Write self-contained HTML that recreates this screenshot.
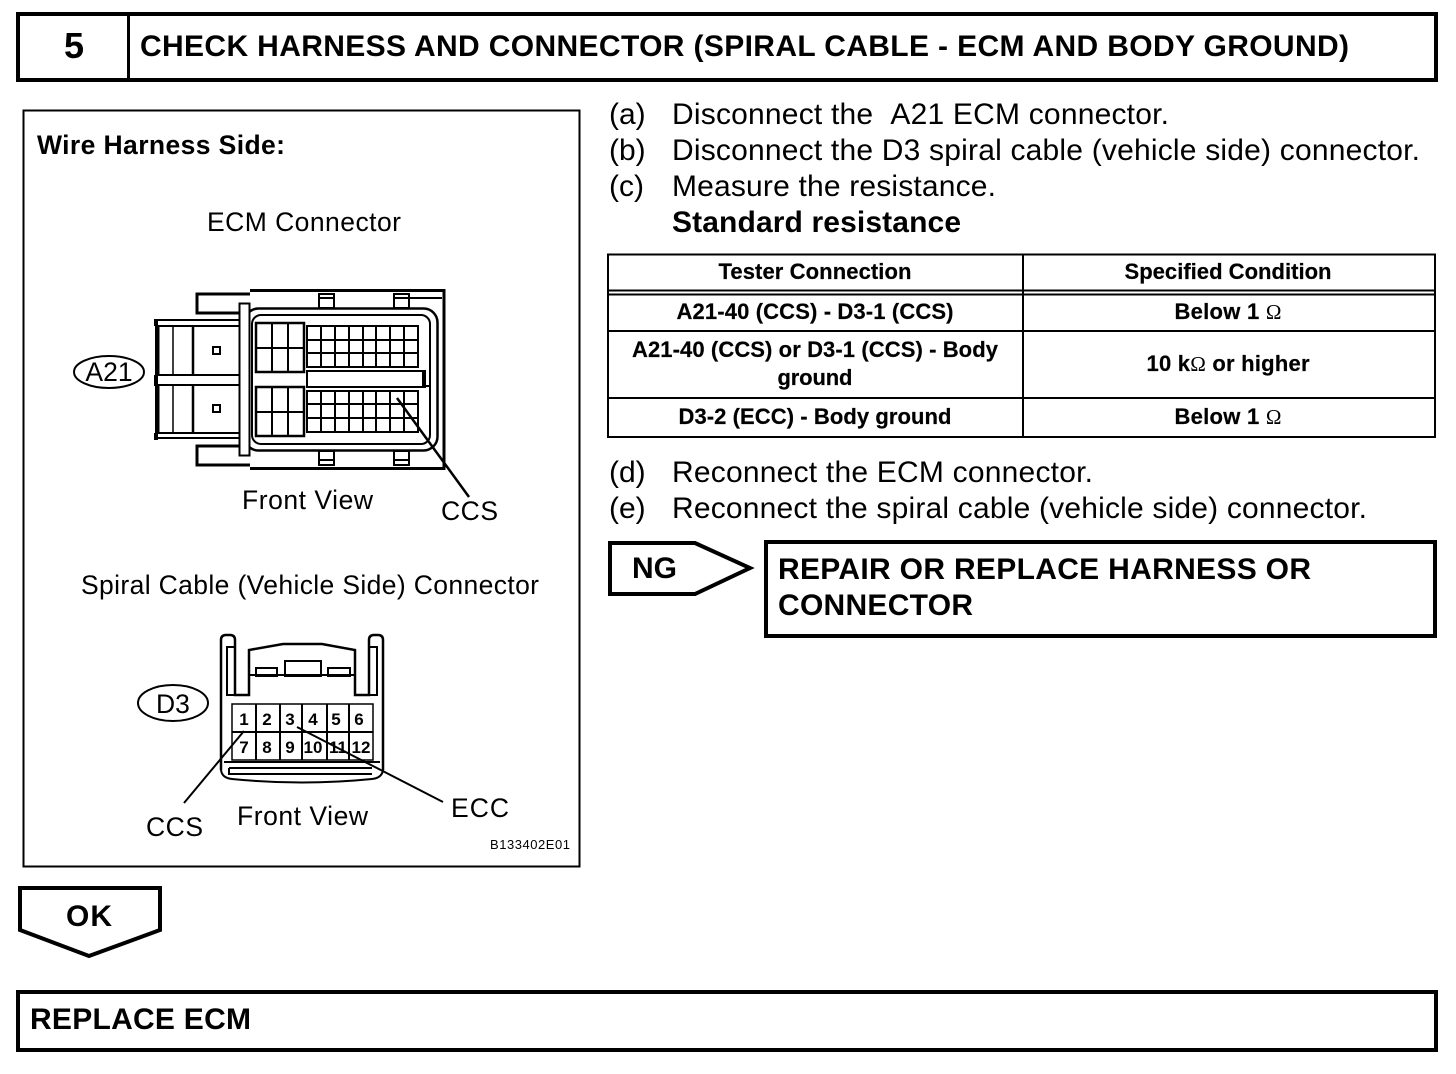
<!DOCTYPE html>
<html><head><meta charset="utf-8"><style>
html,body{margin:0;padding:0;background:#fff}
svg{display:block}
text{font-family:"Liberation Sans",sans-serif;fill:#000}
.b{font-weight:bold}
.t{font-size:30px}
.s{font-size:22px;font-weight:bold;stroke:#000;stroke-width:.2}
.o{font-weight:normal;stroke:none;font-family:"Liberation Serif",serif;font-size:21px}
.n{font-size:17px;font-weight:bold}
.d{font-size:26.500px}
</style></head><body>
<svg width="1456" height="1074" viewBox="0 0 1456 1074" xmlns="http://www.w3.org/2000/svg">
<g fill="none" stroke="#000">
<rect x="18" y="14" width="1418" height="66" stroke-width="4"/>
<path d="M128.500 14V80" stroke-width="3"/>
<rect x="23.500" y="110.500" width="556" height="756" stroke-width="2"/>
<!-- table -->
<rect x="608" y="254.500" width="827" height="182.500" stroke-width="2"/>
<path d="M1023 254V437M608 290.500H1435M608 294.500H1435M608 331H1435M608 398H1435" stroke-width="2"/>
<!-- NG -->
<path d="M610 543H695L750 568L695 594H610Z" stroke-width="4"/>
<rect x="766" y="542" width="669" height="94" stroke-width="4"/>
<!-- OK -->
<path d="M20 888H160V930L89 956L20 930Z" stroke-width="4"/>
<rect x="18" y="992" width="1418" height="58" stroke-width="4"/>

<!-- ECM connector -->
<g stroke-width="2">
<path d="M250 290.500H444V468.500H250" stroke-width="3"/>
<path d="M250 294H197V313H240" stroke-width="3"/>
<path d="M250 465H197V446H240" stroke-width="3"/>
<path d="M240 320H156V438H240" stroke-width="2"/>
<path d="M156 319V326M156 433V440M156 375V386" stroke-width="4"/>
<path d="M157 326H240M157 433H240M157 375H240M157 385H240"/>
<path d="M158 326V375M158 386V433" stroke-width="3"/>
<path d="M173 326V375M173 386V433" stroke-width="1.500"/>
<path d="M193 326V375M193 386V433" stroke-width="2.500"/>
<rect x="213" y="347" width="7" height="7" stroke-width="2"/>
<rect x="213" y="405" width="7" height="7" stroke-width="2"/>
<rect x="319" y="294" width="15" height="14"/>
<path d="M319 298H334"/>
<rect x="319" y="451" width="15" height="14"/>
<path d="M319 460H334"/>
<rect x="394" y="294" width="15" height="14"/>
<path d="M394 298H409M409 298H442"/>
<rect x="394" y="451" width="15" height="14"/>
<path d="M394 460H409"/>
<rect x="244.500" y="308.500" width="193" height="142" rx="14" stroke-width="2.500" fill="#fff"/>
<rect x="252" y="315" width="178" height="129" rx="9" stroke-width="2"/>
<rect x="239.500" y="303.500" width="10" height="152" fill="#fff" stroke-width="2"/>
<rect x="256" y="323" width="48" height="49" stroke-width="2.500"/>
<path d="M272 323V372M288 323V372M256 348H304"/>
<rect x="256" y="387" width="48" height="49" stroke-width="2.500"/>
<path d="M272 387V436M288 387V436M256 412H304"/>
<rect x="307" y="326" width="111" height="41"/>
<path d="M321 326V367M335 326V367M349 326V367M363 326V367M376 326V367M390 326V367M404 326V367M307 340H418M307 353H418"/>
<rect x="307" y="391" width="111" height="41"/>
<path d="M321 391V432M335 391V432M349 391V432M363 391V432M376 391V432M390 391V432M404 391V432M307 404H418M307 418H418"/>
<rect x="307" y="371" width="118" height="16" fill="#fff" stroke-width="2"/>
<path d="M424 371V387" stroke-width="4"/>
<path d="M425 386H431"/>
<path d="M397 398L469 497" stroke-width="2.500"/>
</g>

<!-- D3 connector -->
<g stroke-width="2">
<path d="M221 770V640Q221 635 226 635H230Q235 635 235 640V695H249V650L283 644H322L355 650V695H369V640Q369 635 374 635H378Q383 635 383 640V770" stroke-width="2.500"/>
<path d="M235 647H227V695H235M369 647H377V695H369"/>
<path d="M250 675H354"/>
<rect x="256" y="668" width="21" height="8"/>
<rect x="285" y="661" width="36" height="15" stroke-width="2"/>
<rect x="328" y="668" width="22" height="8"/>
<path d="M221 770Q222 778 232 779Q302 786 372 779Q382 778 383 770" stroke-width="2"/>
<rect x="232" y="704" width="141" height="56" stroke-width="1.500"/>
<path d="M256 704V760M280 704V760M302 704V760M327 704V760M349 704V760M232 732H373"/>
<path d="M224 762H380M229 768H372M229 768V774H372" stroke-width="2"/>
<path d="M244 731L184 803" stroke-width="2"/>
<path d="M297 727L443 802" stroke-width="2"/>
</g>
<ellipse cx="109" cy="372" rx="35" ry="16" stroke-width="2" fill="#fff"/>
<ellipse cx="173" cy="703" rx="35" ry="18" stroke-width="2" fill="#fff"/>
</g>

<text x="74" y="58" class="b" font-size="36" text-anchor="middle">5</text>
<text x="140" y="56" class="t b" textLength="1209">CHECK HARNESS AND CONNECTOR (SPIRAL CABLE - ECM AND BODY GROUND)</text>
<text x="37" y="154" font-size="26.500" class="b" textLength="248">Wire Harness Side:</text>
<text x="207" y="231" class="d" textLength="194">ECM Connector</text>
<text x="109" y="381" class="d" text-anchor="middle">A21</text>
<text x="242" y="509" class="d" textLength="131">Front View</text>
<text x="441" y="520" class="d" textLength="57">CCS</text>
<text x="81" y="594" class="d" textLength="458">Spiral Cable (Vehicle Side) Connector</text>
<text x="173" y="713" class="d" text-anchor="middle">D3</text>
<g class="n" text-anchor="middle">
<text x="244" y="725">1</text><text x="267" y="725">2</text><text x="290" y="725">3</text><text x="313" y="725">4</text><text x="336" y="725">5</text><text x="359" y="725">6</text>
<text x="244" y="753">7</text><text x="267" y="753">8</text><text x="290" y="753">9</text><text x="313" y="753">10</text><text x="338" y="753">11</text><text x="361" y="753">12</text>
</g>
<text x="146" y="836" class="d" textLength="57">CCS</text>
<text x="237" y="825" class="d" textLength="131">Front View</text>
<text x="451" y="817" class="d" textLength="58">ECC</text>
<text x="490" y="849" font-size="13" textLength="80">B133402E01</text>

<g font-size="30">
<text x="609" y="124">(a)</text><text x="672" y="124" textLength="497">Disconnect the &#160;A21 ECM connector.</text>
<text x="609" y="160">(b)</text><text x="672" y="160" textLength="748">Disconnect the D3 spiral cable (vehicle side) connector.</text>
<text x="609" y="196">(c)</text><text x="672" y="196" textLength="324">Measure the resistance.</text>
<text x="672" y="232" class="b" textLength="289">Standard resistance</text>
<text x="609" y="482">(d)</text><text x="672" y="482" textLength="421">Reconnect the ECM connector.</text>
<text x="609" y="518">(e)</text><text x="672" y="518" textLength="695">Reconnect the spiral cable (vehicle side) connector.</text>
</g>

<g class="s" text-anchor="middle">
<text x="815" y="279" textLength="193">Tester Connection</text>
<text x="1228" y="279" textLength="207">Specified Condition</text>
<text x="815" y="319" textLength="277">A21-40 (CCS) - D3-1 (CCS)</text>
<text x="1228" y="319" textLength="107">Below 1 <tspan class="o">Ω</tspan></text>
<text x="815" y="357" textLength="366">A21-40 (CCS) or D3-1 (CCS) - Body</text>
<text x="815" y="385" textLength="75">ground</text>
<text x="1228" y="371" textLength="163">10 k<tspan class="o">Ω</tspan> or higher</text>
<text x="815" y="424" textLength="273">D3-2 (ECC) - Body ground</text>
<text x="1228" y="424" textLength="107">Below 1 <tspan class="o">Ω</tspan></text>
</g>

<text x="632" y="578" class="b" font-size="30" textLength="45">NG</text>
<text x="778" y="579" class="b" font-size="30" textLength="533">REPAIR OR REPLACE HARNESS OR</text>
<text x="778" y="615" class="b" font-size="30" textLength="195">CONNECTOR</text>
<text x="66" y="926" class="b" font-size="30" textLength="46">OK</text>
<text x="30" y="1029" class="b" font-size="30" textLength="221">REPLACE ECM</text>
</svg>
</body></html>
